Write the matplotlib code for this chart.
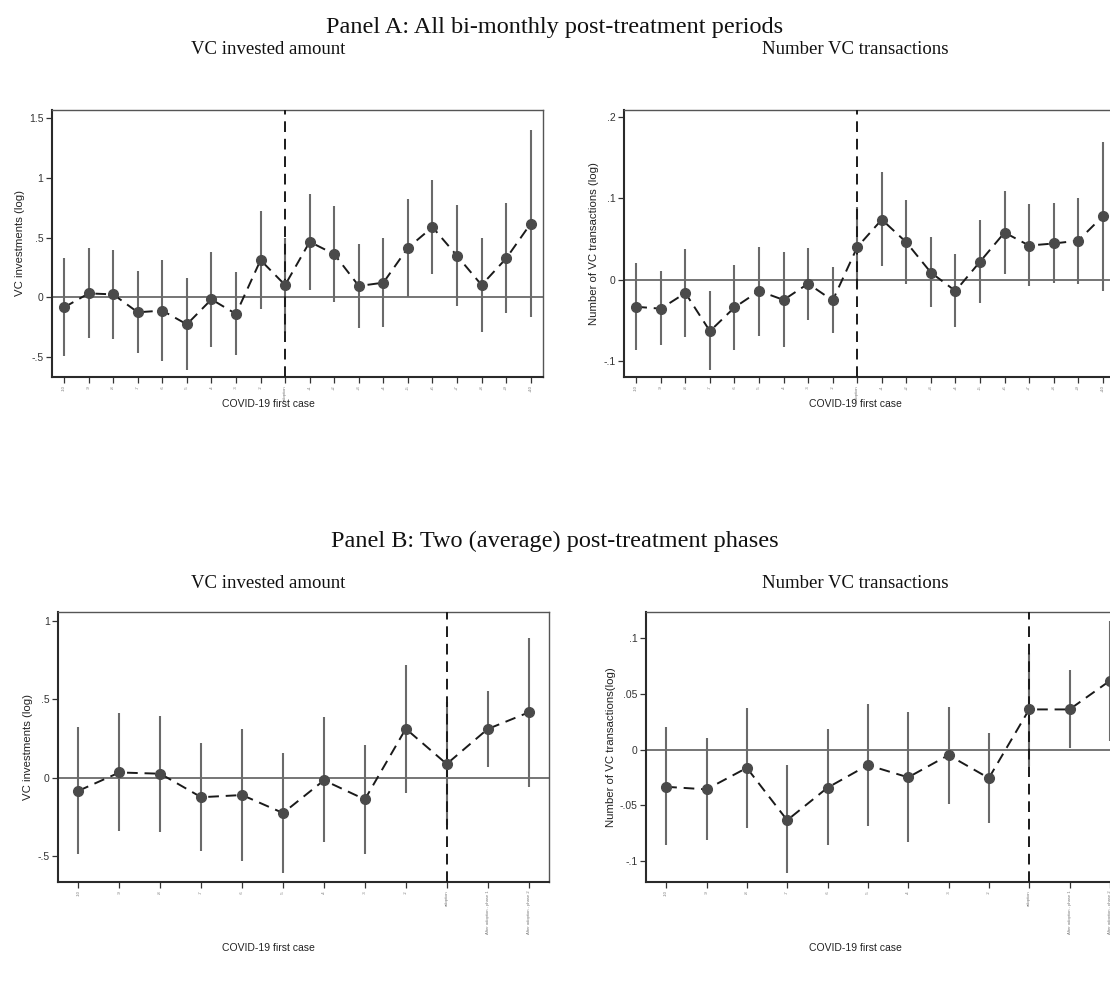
import matplotlib
matplotlib.use("Agg")
import matplotlib.pyplot as plt
import numpy as np

# ---------------- data ----------------
pre_labels = ["-10", "-9", "-8", "-7", "-6", "-5", "-4", "-3", "-2"]
post_labels_a = ["+1", "+2", "+3", "+4", "+5", "+6", "+7", "+8", "+9", "+10"]
labels_a = pre_labels + ["adoption"] + post_labels_a
labels_b = pre_labels + ["adoption", "After adoption - phase 1", "After adoption - phase 2"]

# VC invested amount (log)
inv_pre_coef = [-0.084, 0.033, 0.025, -0.125, -0.111, -0.226, -0.017, -0.139, 0.312]
inv_pre_lo = [-0.488, -0.343, -0.348, -0.468, -0.530, -0.607, -0.412, -0.485, -0.097]
inv_pre_hi = [0.326, 0.410, 0.393, 0.220, 0.310, 0.159, 0.384, 0.209, 0.719]

inv_a_post_coef = [0.103, 0.465, 0.362, 0.095, 0.123, 0.415, 0.588, 0.348, 0.103, 0.326, 0.618]
inv_a_post_lo = [-0.300, 0.064, -0.042, -0.259, -0.245, 0.006, 0.195, -0.075, -0.287, -0.131, -0.162]
inv_a_post_hi = [0.500, 0.864, 0.763, 0.446, 0.499, 0.825, 0.983, 0.777, 0.496, 0.786, 1.398]

inv_b_post_coef = [0.087, 0.310, 0.416]
inv_b_post_lo = [-0.300, 0.070, -0.057]
inv_b_post_hi = [0.480, 0.554, 0.892]

# Number of VC transactions (log)
num_pre_coef = [-0.0335, -0.0358, -0.0165, -0.0635, -0.0343, -0.0140, -0.0250, -0.0050, -0.0257]
num_pre_lo = [-0.0862, -0.0810, -0.0707, -0.1113, -0.0862, -0.0690, -0.0832, -0.0493, -0.0660]
num_pre_hi = [0.0205, 0.0101, 0.0373, -0.0137, 0.0183, 0.0407, 0.0338, 0.0385, 0.0150]

num_a_post_coef = [0.040, 0.074, 0.046, 0.0087, -0.014, 0.022, 0.058, 0.042, 0.0445, 0.048, 0.078]
num_a_post_lo = [-0.010, 0.0165, -0.006, -0.034, -0.0586, -0.029, 0.0074, -0.008, -0.004, -0.005, -0.0136]
num_a_post_hi = [0.090, 0.133, 0.098, 0.053, 0.032, 0.074, 0.109, 0.093, 0.094, 0.100, 0.169]

num_b_post_coef = [0.036, 0.036, 0.0617]
num_b_post_lo = [-0.015, 0.001, 0.0077]
num_b_post_hi = [0.087, 0.071, 0.1157]

yticks_inv_a = [-0.5, 0, 0.5, 1, 1.5]
yticklabels_inv_a = ["-.5", "0", ".5", "1", "1.5"]
yticks_num_a = [-0.1, 0, 0.1, 0.2]
yticklabels_num_a = ["-.1", "0", ".1", ".2"]
yticks_inv_b = [-0.5, 0, 0.5, 1]
yticklabels_inv_b = ["-.5", "0", ".5", "1"]
yticks_num_b = [-0.1, -0.05, 0, 0.05, 0.1]
yticklabels_num_b = ["-.1", "-.05", "0", ".05", ".1"]

# ---------------- figure ----------------
W, H = 1110, 990
fig = plt.figure(figsize=(W / 100, H / 100), dpi=100)
fig.patch.set_facecolor("white")

SANS = ["Liberation Sans", "DejaVu Sans"]
SERIF = ["Liberation Serif", "DejaVu Serif"]


def ax_at(x0, y0, x1, y1):
    return fig.add_axes([x0 / W, 1 - y1 / H, (x1 - x0) / W, (y1 - y0) / H])


def draw(ax, labels, coef, lo, hi, ylim, yticks, yticklabels, ylabel, adopt_idx):
    x = np.arange(len(labels))
    ax.vlines(x, lo, hi, colors="#6a6a6a", linewidth=1.5, zorder=1)
    ax.axhline(0, color="#6a6a6a", linewidth=1.3, zorder=2)
    ax.axvline(adopt_idx, color="#1a1a1a", linewidth=1.4, linestyle=(0, (5.5, 3.5)), zorder=3)
    ax.plot(x, coef, color="#1a1a1a", linewidth=1.4, linestyle=(0, (5.5, 3.5)), zorder=4)
    ax.plot(x, coef, linestyle="none", marker="o", markersize=7, color="#4a4a4a",
            markeredgecolor="#4a4a4a", zorder=5)
    ax.set_xlim(-0.5, len(labels) - 0.5)
    ax.set_ylim(*ylim)
    ax.set_yticks(yticks)
    ax.set_yticklabels(yticklabels, fontsize=7.5, family=SANS, color="#333333")
    ax.set_xticks(x)
    ax.set_xticklabels(labels, rotation=90, fontsize=3.0, family=SANS, color="#777777")
    ax.tick_params(axis="y", direction="out", length=4, width=0.9, colors="#333333", pad=2)
    ax.tick_params(axis="x", direction="out", length=4, width=0.9, colors="#333333", pad=2,
                   labelcolor="#777777")
    ax.set_ylabel(ylabel, fontsize=8.2, family=SANS, color="#222222", labelpad=3)
    for side in ["left", "bottom"]:
        ax.spines[side].set_linewidth(1.5)
        ax.spines[side].set_color("#2a2a2a")
    for side in ["top", "right"]:
        ax.spines[side].set_linewidth(1.0)
        ax.spines[side].set_color("#555555")


# Panel A
ax1 = ax_at(51.8, 110, 543, 377)
draw(ax1, labels_a, inv_pre_coef + inv_a_post_coef, inv_pre_lo + inv_a_post_lo,
     inv_pre_hi + inv_a_post_hi, (-0.667, 1.569), yticks_inv_a, yticklabels_inv_a,
     "VC investments (log)", 9)

ax2 = ax_at(624, 110, 1115, 377)
draw(ax2, labels_a, num_pre_coef + num_a_post_coef, num_pre_lo + num_a_post_lo,
     num_pre_hi + num_a_post_hi, (-0.120, 0.209), yticks_num_a, yticklabels_num_a,
     "Number of VC transactions (log)", 9)

# Panel B
ax3 = ax_at(58, 612, 549, 882)
draw(ax3, labels_b, inv_pre_coef + inv_b_post_coef, inv_pre_lo + inv_b_post_lo,
     inv_pre_hi + inv_b_post_hi, (-0.666, 1.057), yticks_inv_b, yticklabels_inv_b,
     "VC investments (log)", 9)

ax4 = ax_at(646, 612, 1130, 882)
draw(ax4, labels_b, num_pre_coef + num_b_post_coef, num_pre_lo + num_b_post_lo,
     num_pre_hi + num_b_post_hi, (-0.119, 0.1235), yticks_num_b, yticklabels_num_b,
     "Number of VC transactions(log)", 9)

# Titles and labels
def ftext(x, y, s, **kw):
    fig.text(x / W, 1 - y / H, s, ha="center", va="center", **kw)

ftext(555, 27, "Panel A: All bi-monthly post-treatment periods", fontsize=17.5, family=SERIF, color="#111111")
ftext(268, 50, "VC invested amount", fontsize=13.5, family=SERIF, color="#111111")
ftext(855, 50, "Number VC transactions", fontsize=13.5, family=SERIF, color="#111111")
ftext(555, 541, "Panel B: Two (average) post-treatment phases", fontsize=17.5, family=SERIF, color="#111111")
ftext(268, 584, "VC invested amount", fontsize=13.5, family=SERIF, color="#111111")
ftext(855, 584, "Number VC transactions", fontsize=13.5, family=SERIF, color="#111111")

ftext(268, 404, "COVID-19 first case", fontsize=7.5, family=SANS, color="#222222")
ftext(855, 404, "COVID-19 first case", fontsize=7.5, family=SANS, color="#222222")
ftext(268, 948, "COVID-19 first case", fontsize=7.5, family=SANS, color="#222222")
ftext(855, 948, "COVID-19 first case", fontsize=7.5, family=SANS, color="#222222")

fig.savefig("out.png", dpi=100, facecolor="white")
